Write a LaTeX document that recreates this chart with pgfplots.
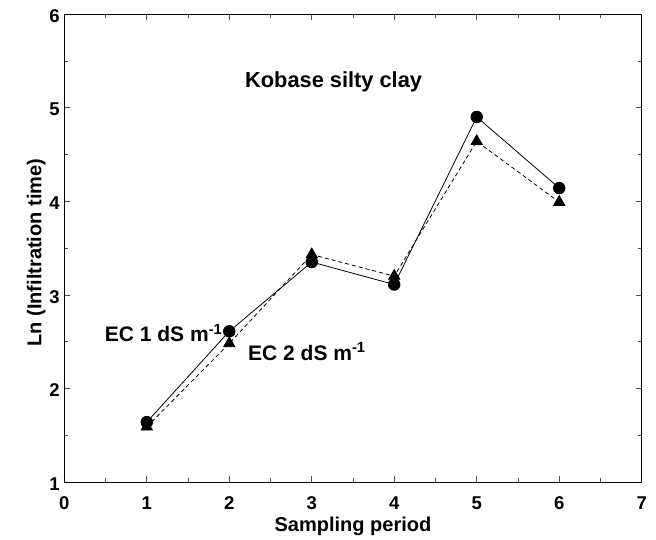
\documentclass[border=0pt]{standalone}
\usepackage{pgfplots}
\pgfplotsset{compat=1.18}
\usepackage{fontspec}
\setmainfont{Liberation Sans}
\begin{document}
\begin{tikzpicture}
\begin{axis}[
  name=ax,
  at={(0,0)}, anchor=south west,
  scale only axis,
  width=577.4pt, height=468pt,
  xmin=0, xmax=7, ymin=1, ymax=6,
  xtick={0,1,...,7}, ytick={1,2,...,6},
  minor xtick={0.5,1.5,...,6.5}, minor ytick={1.5,2.5,...,5.5},
  tick align=inside,
  major tick length=6pt, minor tick length=4pt,
  every tick/.style={black!70, line width=0.6pt},
  axis line style={black, line width=0.9pt},
  /pgf/number format/assume math mode=true,
  tick label style={font=\fontsize{18.5}{20}\selectfont\bfseries},
  xticklabel style={anchor=base, yshift=-27pt},
  yticklabel style={xshift=-1pt, yshift=-2pt},
  label style={font=\fontsize{20}{22}\selectfont\bfseries},
  xlabel={Sampling period},
  ylabel={Ln (Infiltration time)},
  xlabel style={at={(axis description cs:0.5,-0.1047)}, anchor=base},
  ylabel style={at={(axis description cs:-0.0398,0.49)}, anchor=base},
  clip=false,
]
\addplot[black, line width=0.8pt, mark=*, mark size=5.8pt] coordinates {
(1,1.64) (2,2.61) (3,3.35) (4,3.11) (5,4.90) (6,4.14)};
\addplot[black, line width=0.8pt, dash pattern=on 4pt off 3pt, mark=triangle*, mark size=6.5pt, mark options={solid}] coordinates {
(1,1.59) (2,2.48) (3,3.43) (4,3.20) (5,4.64) (6,3.99)};
\node[font=\fontsize{21.8}{24}\selectfont\bfseries, anchor=base west, inner sep=0pt] at (axis cs:2.190,5.21) {Kobase silty clay};
\node[font=\fontsize{21}{24}\selectfont\bfseries, anchor=base west, inner sep=0pt] at (axis cs:0.49,2.496) {EC 1 dS m\textsuperscript{-1}};
\node[font=\fontsize{21}{24}\selectfont\bfseries, anchor=base west, inner sep=0pt] at (axis cs:2.227,2.30) {EC 2 dS m\textsuperscript{-1}};
\end{axis}
\pgfresetboundingbox
\useasboundingbox (-64.3pt,-57pt) rectangle (591.7pt,482pt);
\end{tikzpicture}
\end{document}
